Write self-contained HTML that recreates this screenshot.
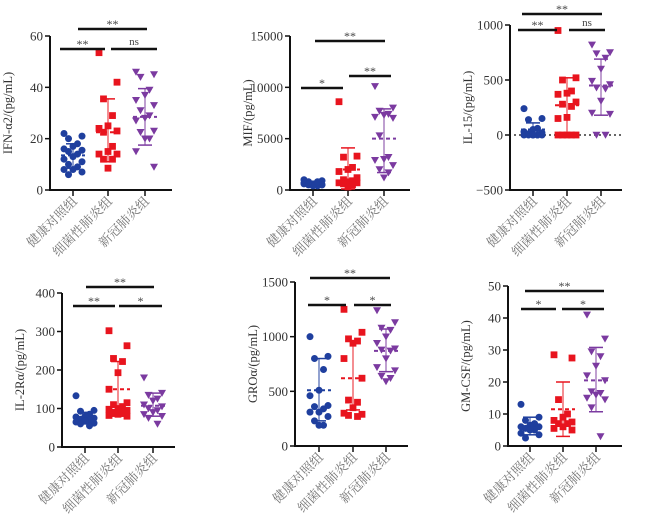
<!DOCTYPE html>
<html><head><meta charset="utf-8"><style>
html,body{margin:0;padding:0;background:#fff;}
svg{display:block;}
text{font-family:"Liberation Serif","Noto Serif CJK SC",serif;}
</style></head><body>
<svg id="s" width="650" height="522" xmlns="http://www.w3.org/2000/svg"></svg>
<script>
const S=document.getElementById('s');let h='';
const C=['#1f3f9e','#e8141e','#7b3aa0'];
const L=['健康对照组','细菌性肺炎组','新冠肺炎组'];
function P(o){
 const {ax,yTop,yBot,vTop,vBot,xEnd,gx,ticks,label,bars,data,zero}=o;
 const Y=v=>yBot-(v-vBot)/(vTop-vBot)*(yBot-yTop);
 h+=`<line x1="${ax}" y1="${yTop}" x2="${ax}" y2="${yBot+1}" stroke="#111" stroke-width="2"/>`;
 h+=`<line x1="${ax-1}" y1="${yBot}" x2="${xEnd}" y2="${yBot}" stroke="#111" stroke-width="2"/>`;
 ticks.forEach(t=>{const y=Y(t);h+=`<line x1="${ax-5}" y1="${y}" x2="${ax}" y2="${y}" stroke="#111" stroke-width="1.5"/><text x="${ax-7}" y="${y+4.5}" font-size="13" text-anchor="end" fill="#333">${t<0?'−'+(-t):t}</text>`;});
 const midY=(yTop+yBot)/2;
 h+=`<text transform="translate(${ax-38},${midY}) rotate(-90)" font-size="12.5" text-anchor="middle" fill="#333">${label}</text>`;
 gx.forEach((x,i)=>{h+=`<line x1="${x}" y1="${yBot}" x2="${x}" y2="${yBot+6}" stroke="#111" stroke-width="1.5"/>`;
  h+=`<text transform="translate(${x+5},${yBot+12}) rotate(-45)" font-size="13" text-anchor="end" fill="#777">${L[i]}</text>`;});
 if(zero!==undefined){h+=`<line x1="${ax+4}" y1="${Y(0)}" x2="${xEnd}" y2="${Y(0)}" stroke="#333" stroke-width="1.5" stroke-dasharray="2,3"/>`;}
 data.forEach((d,i)=>{const x=gx[i],c=C[i];
  const [vals,mean,lo,hi]=d;
  h+=`<line x1="${x}" y1="${Y(lo)}" x2="${x}" y2="${Y(hi)}" stroke="${c}" stroke-width="1.2" opacity="0.8"/>`;
  [lo,hi].forEach(v=>h+=`<line x1="${x-7}" y1="${Y(v)}" x2="${x+7}" y2="${Y(v)}" stroke="${c}" stroke-width="1.5"/>`);
  h+=`<line x1="${x-12}" y1="${Y(mean)}" x2="${x+12}" y2="${Y(mean)}" stroke="${c}" stroke-width="2" stroke-dasharray="4,3"/>`;
  const off=[-9,9,-4.5,4.5,0,-9,9,-4.5,4.5,0];
  vals.forEach((v,k)=>{const px=x+off[k%10],py=Y(v);
   if(i==0)h+=`<circle cx="${px}" cy="${py}" r="3.5" fill="${c}"/>`;
   else if(i==1)h+=`<rect x="${px-3.4}" y="${py-3.4}" width="6.8" height="6.8" fill="${c}"/>`;
   else h+=`<polygon points="${px-4},${py-3.2} ${px+4},${py-3.2} ${px},${py+3.8}" fill="${c}"/>`;});
 });
 bars.forEach(b=>{h+=`<line x1="${b[0]}" y1="${b[2]}" x2="${b[1]}" y2="${b[2]}" stroke="#111" stroke-width="2.5"/><text x="${(b[0]+b[1])/2}" y="${b[2]-(b[3]=='ns'?4:1)}" font-size="${b[3]=='ns'?11:12}" text-anchor="middle" fill="#444">${b[3]}</text>`;});
}
P({ax:50,yTop:36,yBot:190,vTop:60,vBot:0,xEnd:172,gx:[73,108,145],ticks:[0,20,40,60],label:'IFN-α2/(pg/mL)',
 bars:[[78,147,29,'**'],[60,105,49,'**'],[111,157,49,'ns']],
 data:[[[22,21,20,18,17,16,15.5,15,14,13,12,11,10,9,8,8,7,6],13.5,8.5,18],
 [[53.5,42,35.5,29,25,24,23,22.5,17,15,14,14,12,12,8.5],22.5,11,35.5],
 [[46,45,44,39,37,35,33,31,29,28,27,23,22.5,20,20,15,9],28.5,17.5,39.5]]});
P({ax:290,yTop:36,yBot:190,vTop:15000,vBot:0,xEnd:410,gx:[313,348,384],ticks:[0,5000,10000,15000],label:'MIF/(pg/mL)',
 bars:[[315,385,41,'**'],[301,343,88,'*'],[349,391,76,'**']],
 data:[[[1000,900,800,700,600,600,500,500,400,400,700,500,600,800],600,450,800],
 [[8600,3300,3200,2200,2000,1800,1200,1000,900,800,700,700,600,500,300],2000,100,4100],
 [[10100,8000,7700,7400,7300,7100,7000,5300,3200,3000,2900,2400,2000,1700,1200],5000,1700,7900]]});
P({ax:510,yTop:25,yBot:190,vTop:1000,vBot:-500,xEnd:622,gx:[533,567,601],ticks:[-500,0,500,1000],label:'IL-15/(pg/mL)',zero:1,
 bars:[[522,602,14,'**'],[518,557,30,'**'],[569,605,30,'ns']],
 data:[[[240,150,140,60,50,30,20,10,0,0,0,0,0,0,0],50,0,110],
 [[950,520,500,400,380,370,300,280,260,160,150,0,0,0,0,0],270,0,520],
 [[820,750,740,700,600,490,460,430,420,310,200,190,0,0],450,180,690]]});
P({ax:62,yTop:293,yBot:447,vTop:400,vBot:0,xEnd:175,gx:[85,118,153],ticks:[0,100,200,300,400],label:'IL-2Rα/(pg/mL)',
 bars:[[86,154,287,'**'],[73,115,306,'**'],[119,162,306,'*']],
 data:[[[133,95,93,85,80,78,75,72,70,68,65,62,60,55],75,60,90],
 [[302,263,230,222,193,150,115,110,105,100,98,95,90,88,85,82,80],150,80,222],
 [[180,140,135,125,120,110,105,100,95,90,85,80,75,60],107,80,140]]});
P({ax:295,yTop:282,yBot:446,vTop:1500,vBot:0,xEnd:408,gx:[319,353,386],ticks:[0,500,1000,1500],label:'GROα/(pg/mL)',
 bars:[[310,390,278,'**'],[308,346,305,'*'],[354,391,305,'*']],
 data:[[[1000,820,800,700,510,460,370,360,340,310,310,270,230,190,190],510,230,800],
 [[1250,1040,980,960,940,800,620,420,400,350,300,290,280,270],620,330,960],
 [[1240,1130,1080,1060,1000,940,890,880,870,800,720,690,640,620,590],870,680,1070]]});
P({ax:508,yTop:286,yBot:446,vTop:50,vBot:0,xEnd:622,gx:[530,563,596],ticks:[0,10,20,30,40,50],label:'GM-CSF/(pg/mL)',
 bars:[[525,604,291,'**'],[521,556,309,'*'],[562,604,309,'*']],
 data:[[[13,9,8,7,6.5,6,6,5.5,5,5,4,3.5,2.5],6,3.5,9],
 [[28.5,27.5,14.5,10,9,8,7.5,7,7,6,5.5,5],11.5,3,20],
 [[41,33.5,29.5,28,25,22,20.5,17,16.5,16,15,14.5,12,3],20.5,10.7,30.8]]});
S.innerHTML=h;
</script>
</body></html>
